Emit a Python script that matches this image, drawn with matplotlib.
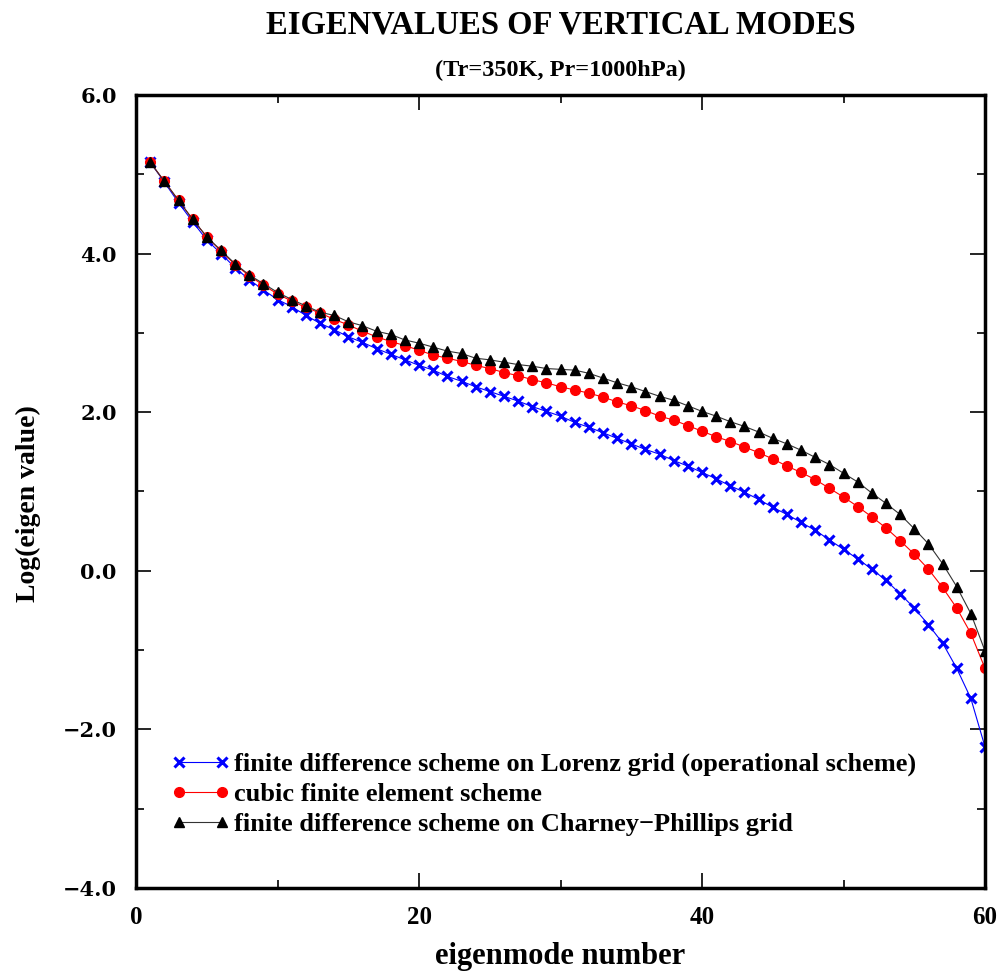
import numpy as np
import matplotlib
matplotlib.use("Agg")
import matplotlib.pyplot as plt
from matplotlib.ticker import MultipleLocator

# eigenmode numbers 1..60
modes = np.arange(1, 61)

# finite difference scheme on Lorenz grid (operational scheme)
lorenz = [5.15, 4.90, 4.64, 4.40, 4.17, 4.00, 3.82, 3.67, 3.54, 3.42,
          3.33, 3.22, 3.12, 3.04, 2.95, 2.88, 2.80, 2.73, 2.66, 2.59,
          2.53, 2.45, 2.39, 2.32, 2.26, 2.20, 2.14, 2.07, 2.01, 1.95,
          1.87, 1.81, 1.74, 1.67, 1.60, 1.53, 1.47, 1.39, 1.32, 1.24,
          1.16, 1.07, 0.99, 0.90, 0.80, 0.71, 0.61, 0.51, 0.39, 0.27,
          0.15, 0.02, -0.12, -0.29, -0.47, -0.68, -0.91, -1.23, -1.61, -2.22]

# cubic finite element scheme
cubic_fe = [5.15, 4.91, 4.67, 4.43, 4.21, 4.03, 3.86, 3.72, 3.60, 3.49,
            3.40, 3.32, 3.25, 3.17, 3.10, 3.02, 2.95, 2.89, 2.84, 2.78,
            2.72, 2.68, 2.64, 2.59, 2.55, 2.50, 2.46, 2.41, 2.37, 2.32,
            2.28, 2.24, 2.19, 2.13, 2.08, 2.02, 1.95, 1.90, 1.83, 1.76,
            1.69, 1.63, 1.56, 1.49, 1.41, 1.32, 1.24, 1.15, 1.04, 0.93,
            0.81, 0.68, 0.54, 0.38, 0.21, 0.02, -0.21, -0.47, -0.79, -1.23]

# finite difference scheme on Charney-Phillips grid
charney = [5.15, 4.91, 4.67, 4.43, 4.21, 4.04, 3.87, 3.73, 3.62, 3.51,
           3.42, 3.34, 3.26, 3.22, 3.14, 3.09, 3.02, 2.98, 2.91, 2.87,
           2.82, 2.77, 2.74, 2.68, 2.66, 2.63, 2.60, 2.58, 2.55, 2.54,
           2.53, 2.49, 2.43, 2.37, 2.32, 2.26, 2.20, 2.15, 2.08, 2.01,
           1.95, 1.88, 1.82, 1.75, 1.67, 1.60, 1.52, 1.43, 1.34, 1.23,
           1.12, 0.98, 0.85, 0.71, 0.53, 0.34, 0.09, -0.20, -0.54, -1.01]

labels = ["finite difference scheme on Lorenz grid (operational scheme)",
          "cubic finite element scheme",
          "finite difference scheme on Charney\u2212Phillips grid"]
xticks = [0, 20, 40, 60]
yticks = [-4, -2, 0, 2, 4, 6]

times = "Liberation Serif"
school = "DejaVu Serif"

fig = plt.figure(figsize=(10.01, 9.73), dpi=100)
ax = fig.add_axes([0.136, 0.0874, 0.848, 0.815])

ax.plot(modes, lorenz, color="blue", lw=0.8, marker="x", ms=7, mew=2.2,
        label=labels[0])
ax.plot(modes, cubic_fe, color="red", lw=0.8, marker="o", ms=7,
        label=labels[1])
ax.plot(modes, charney, color="#333333", lw=0.8, marker="^", ms=7.5,
        mfc="black", mec="black", label=labels[2])

ax.set_xlim(0, 60)
ax.set_ylim(-4, 6)
ax.set_xticks(xticks)
ax.set_yticks(yticks)
ax.xaxis.set_minor_locator(MultipleLocator(10))
ax.yaxis.set_minor_locator(MultipleLocator(1))
ax.tick_params(which="both", direction="in", top=True, right=True, width=1.2)
ax.tick_params(which="major", length=11)
ax.tick_params(which="minor", length=6)
ax.tick_params(axis="x", pad=13)
ax.tick_params(axis="y", pad=14)
for s in ax.spines.values():
    s.set_linewidth(2.5)

ax.set_xticklabels([str(v) for v in xticks], fontfamily=times,
                   fontweight="bold", fontsize=18)
ax.set_yticklabels(["%.1f" % v if v >= 0 else "\u2212%.1f" % -v for v in yticks],
                   fontfamily=school, fontweight="bold", fontsize=15)

ax.set_xlabel("eigenmode number", fontfamily=times, fontweight="bold",
              fontsize=22)
ax.xaxis.set_label_coords(0.5, -0.068)
ax.set_ylabel("Log(eigen value)", fontfamily=times, fontweight="bold",
              fontsize=20)
ax.yaxis.set_label_coords(-0.112, 0.485)

fig.text(0.56, 0.974, "EIGENVALUES OF VERTICAL MODES", ha="center", va="center",
         fontfamily=times, fontweight="bold", fontsize=23.5)
fig.text(0.56, 0.928, "(Tr=350K, Pr=1000hPa)", ha="center", va="center",
         fontfamily=times, fontweight="bold", fontsize=17.5)

ax.legend(loc="center left", bbox_to_anchor=(0.041, 0.118), frameon=False,
          numpoints=2, handlelength=2.25, handletextpad=0.15, labelspacing=0.25,
          borderpad=0, borderaxespad=0,
          prop={"family": times, "weight": "bold", "size": 19})

fig.savefig("out.png", dpi=100)
